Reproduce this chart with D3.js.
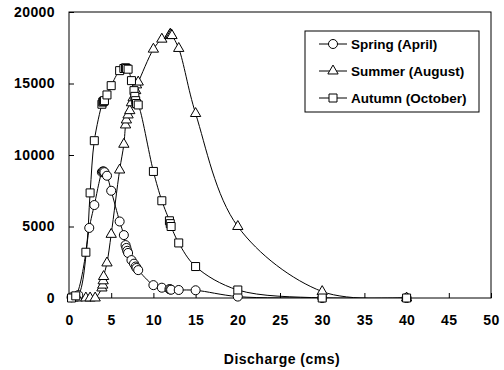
<!DOCTYPE html>
<html><head><meta charset="utf-8">
<script src="https://cdn.jsdelivr.net/npm/d3@7"></script>
<style>body{margin:0;background:#fff}svg{display:block}text{font-family:"Liberation Sans",Arial,sans-serif;font-weight:bold;fill:#000}</style>
</head><body><svg id="c" width="504" height="370"></svg>
<script>
const xTicks = [0,5,10,15,20,25,30,35,40,45,50];
const yTicks = [0,5000,10000,15000,20000];
const seriesNames = ["Spring (April)","Summer (August)","Autumn (October)"];
const springX = [0.3,1.1,2.4,3.0,3.9,4.0,4.1,4.2,4.5,5.0,6.0,6.5,6.7,6.8,6.9,7.0,7.4,7.7,7.9,8.0,8.2,10.0,11.0,11.9,12.0,12.1,13.0,15.0,20.0,30.0,40.0];
const springY = [50,200,4900,6500,8800,8850,8850,8800,8550,7500,5350,4400,3700,3500,3300,3150,2650,2400,2200,2100,1950,900,720,620,600,580,560,540,100,0,0];
const summerX = [0.5,1.0,2.0,2.5,3.1,3.9,4.0,4.05,4.1,4.5,5.0,6.0,6.5,6.7,6.8,7.0,7.2,7.4,7.6,7.9,8.0,8.2,10.0,11.0,11.9,12.0,12.1,12.2,13.0,15.0,20.0,30.0,40.0];
const summerY = [0,0,0,0,0,700,900,1200,1500,2450,4450,8950,10750,12100,12450,12800,13100,13650,14000,14500,14900,15100,17400,18100,18350,18450,18400,18350,17450,12900,5000,450,0];
const autumnX = [0.3,0.8,2.0,2.5,3.0,3.9,4.0,4.1,4.2,4.5,5.0,6.0,6.5,6.7,6.8,7.0,7.4,7.7,7.8,7.9,8.0,8.2,10.0,11.0,11.9,12.0,12.1,13.0,15.0,20.0,30.0,40.0];
const autumnY = [0,150,3200,7350,11000,13550,13700,13750,13800,14200,14850,15900,16050,16100,16050,16000,15200,14500,14100,13800,13600,13500,8850,6800,5400,5200,5000,3850,2200,560,0,0];

const svg = d3.select("#c");
const L=69,R=491,T=12,B=298;
const x = d3.scaleLinear().domain([0,50]).range([L,R]);
const y = d3.scaleLinear().domain([0,20000]).range([B,T]);

svg.append("defs").append("clipPath").attr("id","clip").append("rect")
  .attr("x",L).attr("y",T).attr("width",R-L).attr("height",B-T);

svg.append("rect").attr("x",L).attr("y",T).attr("width",R-L).attr("height",B-T)
  .attr("fill","none").attr("stroke","#000").attr("stroke-width",1);

const xAxis = svg.append("g").attr("transform",`translate(0,${B})`)
  .call(d3.axisBottom(x).tickValues(xTicks).tickSize(-5).tickPadding(18).tickFormat(d3.format("d")));
xAxis.select(".domain").remove();
xAxis.selectAll("text").attr("font-size",14).attr("letter-spacing","0.4px").attr("dy","0.62em");
xAxis.selectAll("line").attr("stroke","#000");

const yAxis = svg.append("g").attr("transform",`translate(${L},0)`)
  .call(d3.axisLeft(y).tickValues(yTicks).tickSize(-5).tickPadding(14).tickFormat(d3.format("d")));
yAxis.select(".domain").remove();
yAxis.selectAll("text").attr("font-size",14).attr("letter-spacing","0.4px");
yAxis.selectAll("line").attr("stroke","#000");

svg.append("text").attr("x",(L+R)/2+2).attr("y",364).attr("text-anchor","middle")
  .attr("font-size",14).attr("letter-spacing","0.5px").text("Discharge (cms)");

const series = [
  {xs:springX, ys:springY, shape:"circle"},
  {xs:summerX, ys:summerY, shape:"triangle"},
  {xs:autumnX, ys:autumnY, shape:"square"}
];
const line = d3.line().x(d=>x(d[0])).y(d=>y(d[1])).curve(d3.curveCatmullRom.alpha(0.5));
const symGen = {
  circle: d3.symbol().type(d3.symbolCircle).size(64),
  triangle: d3.symbol().type(d3.symbolTriangle).size(46),
  square: d3.symbol().type(d3.symbolSquare).size(64)
};
const gLines = svg.append("g").attr("clip-path","url(#clip)");
series.forEach(s=>{
  const pts = s.xs.map((v,i)=>[v,s.ys[i]]);
  gLines.append("path").datum(pts).attr("d",line).attr("fill","none").attr("stroke","#000").attr("stroke-width",1);
});
series.forEach(s=>{
  const pts = s.xs.map((v,i)=>[v,s.ys[i]]);
  svg.append("g").selectAll("path").data(pts).join("path")
    .attr("d",symGen[s.shape]).attr("transform",d=>`translate(${x(d[0])},${y(d[1])})`)
    .attr("fill","#fff").attr("stroke","#000").attr("stroke-width",1);
});

const lg = svg.append("g");
lg.append("rect").attr("x",305).attr("y",31).attr("width",174).attr("height",81)
  .attr("fill","#fff").attr("stroke","#000").attr("stroke-width",1);
series.forEach((s,i)=>{
  const yy = 44 + i*27;
  lg.append("line").attr("x1",319).attr("x2",347).attr("y1",yy).attr("y2",yy).attr("stroke","#000");
  lg.append("path").attr("d",symGen[s.shape]).attr("transform",`translate(333,${yy})`)
    .attr("fill","#fff").attr("stroke","#000");
  lg.append("text").attr("x",351).attr("y",yy).attr("dy","0.36em").attr("font-size",13.5).text(seriesNames[i]);
});
</script></body></html>
